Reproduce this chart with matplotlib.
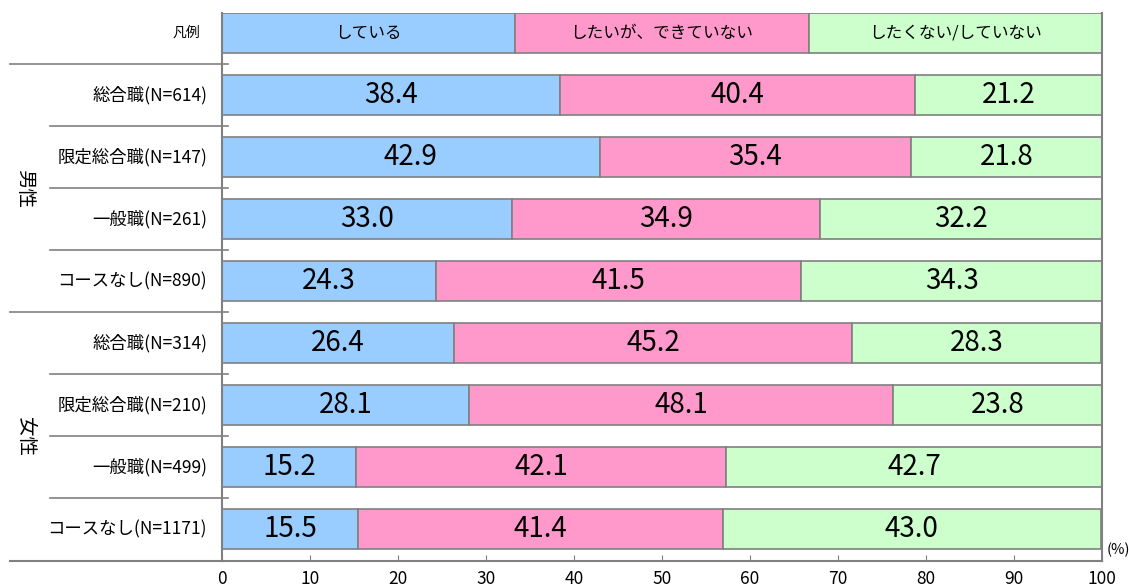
import matplotlib
matplotlib.use("Agg")
import matplotlib.pyplot as plt
from matplotlib.transforms import blended_transform_factory

plt.rcParams['font.family'] = ['Noto Sans CJK JP', 'DejaVu Sans']

categories = ["総合職(N=614)", "限定総合職(N=147)", "一般職(N=261)", "コースなし(N=890)",
              "総合職(N=314)", "限定総合職(N=210)", "一般職(N=499)", "コースなし(N=1171)"]
groups = ["男性", "女性"]
series_names = ["している", "したいが、できていない", "したくない/していない"]
doing = [38.4, 42.9, 33.0, 24.3, 26.4, 28.1, 15.2, 15.5]
want_but_not = [40.4, 35.4, 34.9, 41.5, 45.2, 48.1, 42.1, 41.4]
not_want = [21.2, 21.8, 32.2, 34.3, 28.3, 23.8, 42.7, 43.0]
xticks = [0, 10, 20, 30, 40, 50, 60, 70, 80, 90, 100]

colors = ["#99CCFF", "#FF99CC", "#CCFFCC"]
edge = "#808080"

fig = plt.figure(figsize=(11.29, 5.88), dpi=100)
ax = fig.add_axes([222/1129, 1 - 560.5/588, 880/1129, (560.5-13)/588])

h = 40/62
series = [doing, want_but_not, not_want]
# legend row (row 0)
third = 100/3
for j, name in enumerate(series_names):
    ax.barh(0, third, left=j*third, height=h, color=colors[j], edgecolor=edge, linewidth=1.2)
    ax.text(j*third + third/2, 0, name, ha='center', va='center', fontsize=12)

for i in range(len(categories)):
    y = i + 1
    left = 0
    for j, vals in enumerate(series):
        v = vals[i]
        ax.barh(y, v, left=left, height=h, color=colors[j], edgecolor=edge, linewidth=1.2)
        ax.text(left + v/2, y, f"{v:.1f}", ha='center', va='center', fontsize=20)
        left += v

ax.set_xlim(0, 100)
ax.set_ylim(8.5, -h/2)
ax.set_yticks([])
ax.set_xticks(xticks)
ax.set_xticklabels([str(t) for t in xticks], fontsize=12.5)
ax.tick_params(axis='x', direction='in', length=4, color=edge, pad=7)
for s in ax.spines.values():
    s.set_color(edge)
    s.set_linewidth(1.5)
ax.spines['top'].set_visible(False)

tr = blended_transform_factory(ax.transAxes, ax.transData)
# row labels
ax.text(-0.025, 0, "凡例", transform=tr, ha='right', va='center', fontsize=10)
for i, c in enumerate(categories):
    ax.text(-0.017, i + 1, c, transform=tr, ha='right', va='center', fontsize=12.5)

# separator lines
for b in range(8):
    yb = b + 0.5
    if b in (0, 4):
        x0 = (10-222)/880
    else:
        x0 = (50-222)/880
    ax.plot([x0, 6/880], [yb, yb], transform=tr, color=edge, lw=1.2, clip_on=False)
ax.plot([(10-222)/880, 0], [8.5, 8.5], transform=tr, color=edge, lw=1.5, clip_on=False)

# group labels
ax.text((25-222)/880, 2.5, groups[0], transform=tr, ha='center', va='center', rotation=270, fontsize=14)
ax.text((25-222)/880, 6.5, groups[1], transform=tr, ha='center', va='center', rotation=270, fontsize=14)

ax.text(1.005, 8.33, "(%)", transform=tr, ha='left', va='center', fontsize=10.5)

fig.savefig("out.png", dpi=100)
